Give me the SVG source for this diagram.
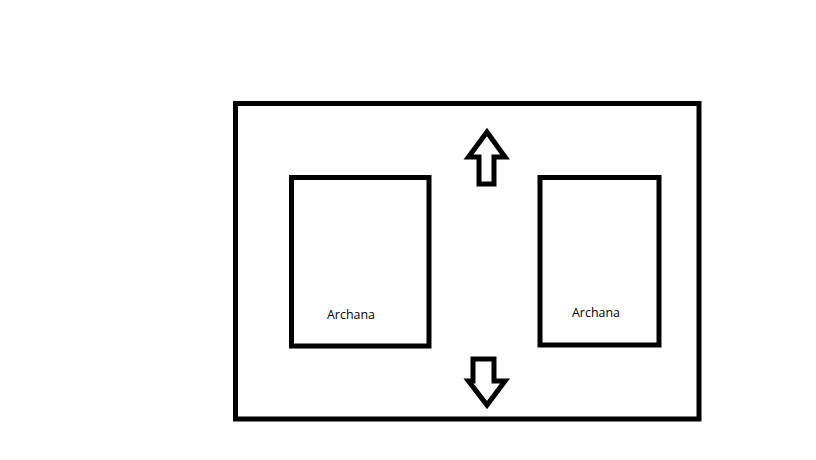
<svg xmlns="http://www.w3.org/2000/svg" width="816" height="460" viewBox="0 0 816 460">
<style>
.box{fill:none;stroke:#000;stroke-width:5;stroke-linejoin:miter}
.arr{fill:#fff;stroke:#000;stroke-width:5;stroke-linejoin:miter}
.lbl{font-family:"Open Sans","Noto Sans","Liberation Sans",sans-serif;font-size:13px;fill:#000}
</style>
<rect width="816" height="460" fill="#fff"/>
<g id="frame"><rect class="box" x="235.5" y="103.5" width="463.5" height="315.5"/></g>
<g id="card-left"><rect class="box" x="291.5" y="177.5" width="137.5" height="168.5"/><text class="lbl" x="327" y="319" textLength="48" lengthAdjust="spacingAndGlyphs">Archana</text></g>
<g id="card-right"><rect class="box" x="540" y="177.5" width="119" height="167.5"/><text class="lbl" x="572" y="317" textLength="48" lengthAdjust="spacingAndGlyphs">Archana</text></g>
<g id="connectors">
<path id="arrow-up" class="arr" d="M487,132 L468.5,157 L479,157 L479,184 L494,184 L494,157 L505,157 Z"/>
<path id="arrow-down" class="arr" d="M473,359 L494,359 L494,381 L505,381 L487,405 L468.5,381 L473,381 Z"/>
</g>
</svg>
